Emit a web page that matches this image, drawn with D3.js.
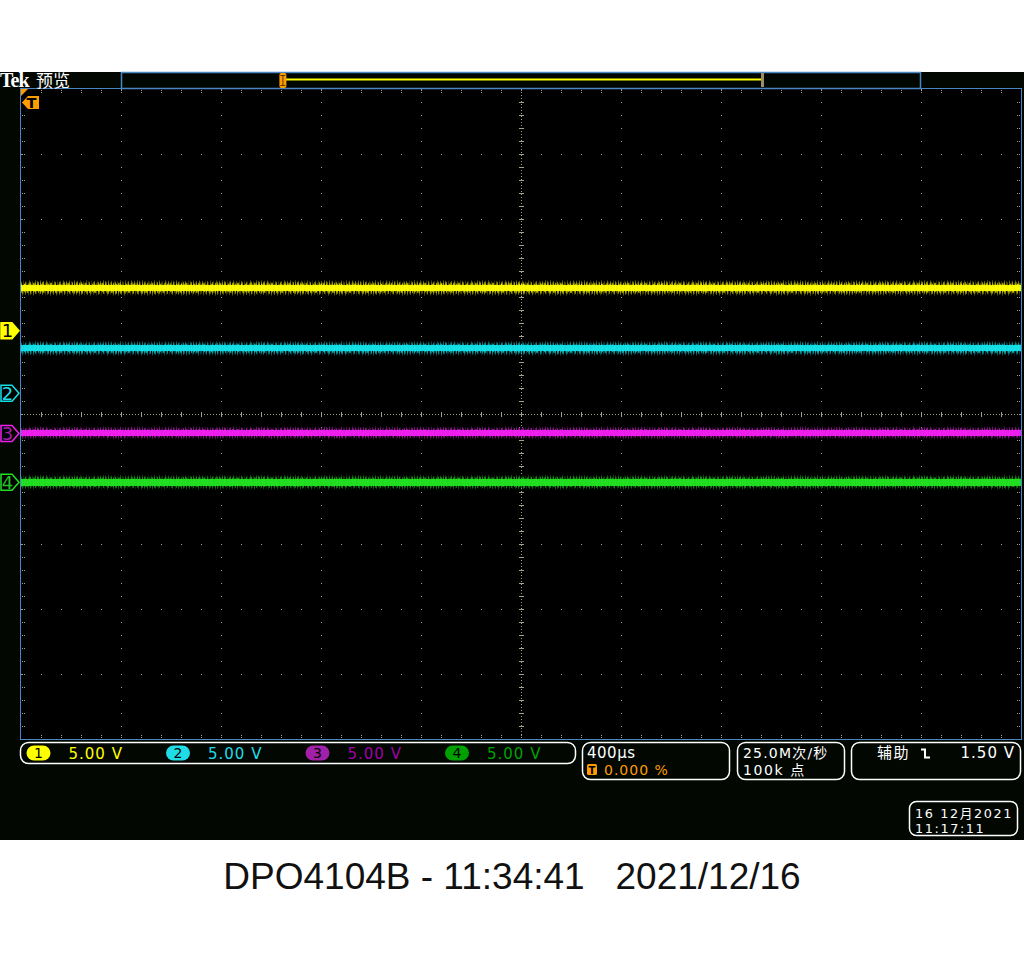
<!DOCTYPE html>
<html><head><meta charset="utf-8">
<script src="https://cdn.jsdelivr.net/npm/d3@7"></script>
<style>body{margin:0;background:#fff}svg{display:block}text{white-space:pre}</style>
</head><body><svg id="c" width="1024" height="960"></svg>
<script>
// ---------------- data ----------------
const channelNames = ["1", "2", "3", "4"];
const voltsPerDiv = [5.00, 5.00, 5.00, 5.00];
const offsetDivs = [1.28, 0.32, -0.30, -1.05];     // ground marker position (divisions from centre)
const levelsV = [3.30, 3.45, 0.05, 0.00];           // mean level of each trace (V)
const noisePkPkV = [1.25, 1.20, 1.05, 1.20];        // noise envelope peak-to-peak (V)
const coreV = [0.50, 0.45, 0.50, 0.50];             // bright core width (V)
const timePerDivUs = 400;
const timeDivs = 10;
const vertDivs = 10;
const recordViewPct = [20.6, 80.1];                 // displayed window in record bar (%)
const triggerPosPct = [20.2];
const timebaseLabel = "400µs";
const triggerDelayLabel = "0.000 %";
const sampleLabels = ["25.0M次/秒", "100k 点"];
const triggerLabels = ["辅助", "1.50 V"];
const dateLabels = ["16 12月2021", "11:17:11"];
const headerLabels = ["Tek", "预览"];
const captionText = "DPO4104B - 11:34:41   2021/12/16";

// ---------------- styles ----------------
const chColors = ["#ffff00", "#14e0e8", "#f020f0", "#22e022"];
const chTextColors = ["#ffff00", "#20dce6", "#a000a8", "#00a000"];
const chBadgeColors = ["#ffff00", "#20dce6", "#a020a8", "#00a000"];
const markerText = ["#000", "#20dce6", "#a020a8", "#20c020"];
const gridColor = "#a59f8c";
const borderBlue = "#4a86c6";
const orange = "#ff9c00";
const scopeFont = "'DejaVu Sans', 'Noto Sans CJK SC', sans-serif";
const cjkFont = "'Noto Sans CJK SC', 'DejaVu Sans', sans-serif";
const texCut = [3, 0, 5, 1, 2, 6, 0, 4, 2, 1, 5, 3, 0, 2, 4, 1, 3]; // decorative edge jag texture (px)

const svg = d3.select("#c");
const P = {l: 21, r: 1021, t: 89, b: 739};

svg.append("rect").attr("width", 1024).attr("height", 960).attr("fill", "#fff");
svg.append("rect").attr("x", 0).attr("y", 72).attr("width", 1024).attr("height", 768).attr("fill", "#020702");
svg.append("rect").attr("x", P.l).attr("y", P.t).attr("width", P.r - P.l).attr("height", P.b - P.t).attr("fill", "#000");

const x = d3.scaleLinear().domain([0, timePerDivUs * timeDivs]).range([P.l, P.r]);
const yDiv = d3.scaleLinear().domain([-vertDivs / 2, vertDivs / 2]).range([P.b, P.t]);
const chY = (i, v) => yDiv(offsetDivs[i] + v / voltsPerDiv[i]);

// ---------------- grid ----------------
const g = svg.append("g").attr("shape-rendering", "crispEdges").attr("stroke", gridColor).attr("stroke-width", 1);
const xMajor = d3.range(1, timeDivs).map(k => k * timePerDivUs);
const yMajor = d3.range(-vertDivs / 2 + 1, vertDivs / 2).filter(d => d !== 0);
xMajor.filter(t => t !== timePerDivUs * timeDivs / 2).forEach(t => {
  const xx = Math.round(x(t)) + 0.5;
  g.append("line").attr("x1", xx).attr("x2", xx).attr("y1", P.t).attr("y2", P.b).attr("stroke-dasharray", "1 12");
});
yMajor.forEach(d => {
  const yy = Math.round(yDiv(d)) + 0.5;
  g.append("line").attr("x1", P.l).attr("x2", P.r).attr("y1", yy).attr("y2", yy).attr("stroke-dasharray", "1 19");
});
const cx = Math.round(x(timePerDivUs * timeDivs / 2)) + 0.5;
const cy = Math.round(yDiv(0)) + 0.5;
g.append("line").attr("x1", cx).attr("x2", cx).attr("y1", P.t).attr("y2", P.b).attr("stroke-dasharray", "1 2");
g.append("line").attr("x1", P.l).attr("x2", P.r).attr("y1", cy).attr("y2", cy).attr("stroke-dasharray", "1 2");
const yMinor = d3.range(-vertDivs / 2 * 5 + 1, vertDivs / 2 * 5).map(k => k / 5);
const xMinor = d3.range(1, timeDivs * 5).map(k => k * timePerDivUs / 5);
yMinor.forEach(d => {
  const yy = Math.round(yDiv(d)) + 0.5;
  g.append("line").attr("x1", cx - 2.5).attr("x2", cx + 2.5).attr("y1", yy).attr("y2", yy);
  g.append("line").attr("x1", P.l + 1).attr("x2", P.l + 4).attr("y1", yy).attr("y2", yy).attr("stroke-dasharray", "1 1");
  g.append("line").attr("x1", P.r - 4).attr("x2", P.r - 1).attr("y1", yy).attr("y2", yy).attr("stroke-dasharray", "1 1");
});
xMinor.forEach(t => {
  const xx = Math.round(x(t)) + 0.5;
  g.append("line").attr("x1", xx).attr("x2", xx).attr("y1", cy - 2.5).attr("y2", cy + 2.5);
  g.append("line").attr("x1", xx).attr("x2", xx).attr("y1", P.t + 1).attr("y2", P.t + 4).attr("stroke-dasharray", "1 1");
  g.append("line").attr("x1", xx).attr("x2", xx).attr("y1", P.b - 4).attr("y2", P.b - 1).attr("stroke-dasharray", "1 1");
});

// ---------------- traces ----------------
const defs = svg.append("defs");
const pat = defs.append("pattern").attr("id", "noise").attr("patternUnits", "userSpaceOnUse")
  .attr("width", 13).attr("height", 40);
[[0, 1, 0.6], [2, 1, 0.3], [5, 2, 0.5], [8, 1, 0.2], [10, 1, 0.55]].forEach(s => {
  pat.append("rect").attr("x", s[0]).attr("y", 0).attr("width", s[1]).attr("height", 40).attr("fill", "#000").attr("opacity", s[2]);
});
channelNames.forEach((c, i) => {
  const grad = defs.append("linearGradient").attr("id", "gr" + i).attr("x1", 0).attr("x2", 0).attr("y1", 0).attr("y2", 1);
  [[0, 0.1], [0.15, 0.45], [0.32, 0.8], [0.5, 1], [0.68, 0.8], [0.85, 0.45], [1, 0.1]].forEach(s =>
    grad.append("stop").attr("offset", s[0]).attr("stop-color", chColors[i]).attr("stop-opacity", s[1]));
});
const tr = svg.append("g").attr("shape-rendering", "crispEdges");
channelNames.forEach((c, i) => {
  const top = chY(i, levelsV[i] + noisePkPkV[i] / 2), bot = chY(i, levelsV[i] - noisePkPkV[i] / 2);
  const h = bot - top;
  const jp = defs.append("pattern").attr("id", "jag" + i).attr("patternUnits", "userSpaceOnUse")
    .attr("x", 0).attr("y", top).attr("width", texCut.length).attr("height", h);
  texCut.forEach((v, k) => {
    jp.append("rect").attr("x", k).attr("y", 0).attr("width", 1).attr("height", v).attr("fill", "#000");
    const vb = texCut[(k + 7) % texCut.length];
    jp.append("rect").attr("x", k).attr("y", h - vb).attr("width", 1).attr("height", vb).attr("fill", "#000");
  });
  const W = x(timePerDivUs * timeDivs) - x(0);
  tr.append("rect").attr("x", x(0)).attr("width", W).attr("y", top).attr("height", h).attr("fill", `url(#gr${i})`);
  tr.append("rect").attr("x", x(0)).attr("width", W).attr("y", top).attr("height", h).attr("fill", "url(#noise)");
  tr.append("rect").attr("x", x(0)).attr("width", W).attr("y", top).attr("height", h).attr("fill", `url(#jag${i})`);
  const ct = chY(i, levelsV[i] + coreV[i] / 2), cb = chY(i, levelsV[i] - coreV[i] / 2);
  tr.append("rect").attr("x", x(0)).attr("width", W).attr("y", ct).attr("height", cb - ct).attr("fill", chColors[i]).attr("opacity", 0.95);
});

// ---------------- border ----------------
svg.append("rect").attr("x", P.l - 0.5).attr("y", P.t - 0.5).attr("width", P.r - P.l + 1).attr("height", P.b - P.t + 1)
  .attr("fill", "none").attr("stroke", borderBlue).attr("stroke-width", 1.5).attr("shape-rendering", "crispEdges");

// ---------------- header / record bar ----------------
svg.append("text").attr("x", 0).attr("y", 87).attr("fill", "#fff").attr("font-family", "'Liberation Serif', serif")
  .attr("font-weight", "bold").attr("font-size", 20).attr("letter-spacing", -1).text(headerLabels[0]);
svg.append("text").attr("x", 36).attr("y", 87).attr("fill", "#fff").attr("font-family", cjkFont)
  .attr("font-size", 17).text(headerLabels[1]);
const rb = d3.scaleLinear().domain([0, 100]).range([121, 920]);
svg.append("rect").attr("x", rb(0) + 0.5).attr("y", 72.5).attr("width", rb(100) - rb(0)).attr("height", 16)
  .attr("fill", "#000700").attr("stroke", borderBlue).attr("stroke-width", 1.5);
svg.append("line").attr("x1", rb(recordViewPct[0])).attr("x2", rb(recordViewPct[1])).attr("y1", 79.5).attr("y2", 79.5)
  .attr("stroke", "#ffff00").attr("stroke-width", 2);
svg.append("rect").attr("x", rb(recordViewPct[1])).attr("y", 73).attr("width", 3).attr("height", 14).attr("fill", "#9c8c68");
const tp = rb(triggerPosPct[0]);
svg.append("rect").attr("x", tp - 3).attr("y", 73).attr("width", 7).attr("height", 15).attr("rx", 2).attr("fill", orange);
svg.append("path").attr("d", `M${tp - 2},75.5 h5 M${tp + 0.5},75.5 v10 M${tp - 2},85.5 h5`).attr("stroke", "#5a3a00").attr("stroke-width", 1).attr("fill", "none");

// trigger markers in plot
svg.append("path").attr("d", `M${P.l},${P.t} h7 l-7,7 z`).attr("fill", orange);
svg.append("path").attr("d", `M${P.l + 1},102.5 l6,-6.5 h11 v13 h-11 z`).attr("fill", orange);
svg.append("text").attr("x", 31.5).attr("y", 108).attr("text-anchor", "middle").attr("fill", "#000")
  .attr("font-family", scopeFont).attr("font-weight", "bold").attr("font-size", 14.5).text("T");

// channel ground markers
channelNames.forEach((c, i) => {
  const yy = yDiv(offsetDivs[i]);
  svg.append("path").attr("d", `M1,${yy - 8} h11 l7,8 l-7,8 h-11 z`)
    .attr("fill", i === 0 ? chColors[0] : "#000").attr("stroke", chColors[i]).attr("stroke-width", 1.5);
  svg.append("text").attr("x", 7.5).attr("y", yy + 6.5).attr("text-anchor", "middle")
    .attr("fill", markerText[i]).attr("font-family", scopeFont).attr("font-size", 18).text(c);
});

// ---------------- bottom status ----------------
const sb = svg.append("g").attr("font-family", scopeFont).attr("font-size", 15);
sb.append("rect").attr("x", 20.5).attr("y", 742.5).attr("width", 555).attr("height", 21).attr("rx", 8)
  .attr("fill", "none").attr("stroke", "#fff").attr("stroke-width", 1.5);
channelNames.forEach((c, i) => {
  const bx = 38.5 + i * 139.5;
  sb.append("rect").attr("x", bx - 12).attr("y", 745.5).attr("width", 24).attr("height", 15).attr("rx", 7.5).attr("fill", chBadgeColors[i]);
  sb.append("text").attr("x", bx).attr("y", 758).attr("text-anchor", "middle").attr("fill", "#000").attr("font-size", 14).text(c);
  sb.append("text").attr("x", bx + 30).attr("y", 758.5).attr("fill", chTextColors[i]).attr("letter-spacing", 1)
    .text(`${voltsPerDiv[i].toFixed(2)} V`);
});
const boxes = [[582.5, 147], [737.5, 107], [851.5, 169]];
boxes.forEach(b => sb.append("rect").attr("x", b[0]).attr("y", 742.5).attr("width", b[1]).attr("height", 37).attr("rx", 8)
  .attr("fill", "none").attr("stroke", "#fff").attr("stroke-width", 1.5));
sb.append("text").attr("x", 587).attr("y", 758).attr("fill", "#fff").attr("letter-spacing", 0.5).text(timebaseLabel);
sb.append("rect").attr("x", 587).attr("y", 764).attr("width", 10).attr("height", 11).attr("rx", 1.5).attr("fill", orange);
sb.append("text").attr("x", 592).attr("y", 774).attr("text-anchor", "middle").attr("fill", "#000").attr("font-size", 10).attr("font-weight", "bold").text("T");
sb.append("text").attr("x", 604).attr("y", 775).attr("fill", orange).attr("font-size", 14).attr("letter-spacing", 1).text(triggerDelayLabel);
sb.append("text").attr("x", 743).attr("y", 758).attr("fill", "#fff").attr("font-size", 14).attr("letter-spacing", 1.2).text(sampleLabels[0]);
sb.append("text").attr("x", 743).attr("y", 775).attr("fill", "#fff").attr("font-size", 14).attr("letter-spacing", 1.6).text(sampleLabels[1]);
sb.append("text").attr("x", 877).attr("y", 758).attr("fill", "#fff").attr("font-size", 15).attr("letter-spacing", 1.5).text(triggerLabels[0]);
sb.append("path").attr("d", "M921,749.5 h4 v8 h5").attr("fill", "none").attr("stroke", "#fff").attr("stroke-width", 2);
sb.append("text").attr("x", 1015).attr("y", 758).attr("text-anchor", "end").attr("fill", "#fff").attr("letter-spacing", 1).text(triggerLabels[1]);
// date box
sb.append("rect").attr("x", 909.5).attr("y", 801.5).attr("width", 108).attr("height", 34).attr("rx", 7)
  .attr("fill", "none").attr("stroke", "#fff").attr("stroke-width", 1.5);
sb.append("text").attr("x", 915).attr("y", 818).attr("fill", "#fff").attr("font-size", 12.8).attr("letter-spacing", 1.6).text(dateLabels[0]);
sb.append("text").attr("x", 915).attr("y", 833).attr("fill", "#fff").attr("font-size", 12.8).attr("letter-spacing", 1.6).text(dateLabels[1]);

// ---------------- caption ----------------
svg.append("text").attr("x", 512).attr("y", 889).attr("text-anchor", "middle").attr("fill", "#111")
  .attr("font-family", "'Liberation Sans', Arial, sans-serif").attr("font-size", 37).text(captionText);
</script></body></html>
